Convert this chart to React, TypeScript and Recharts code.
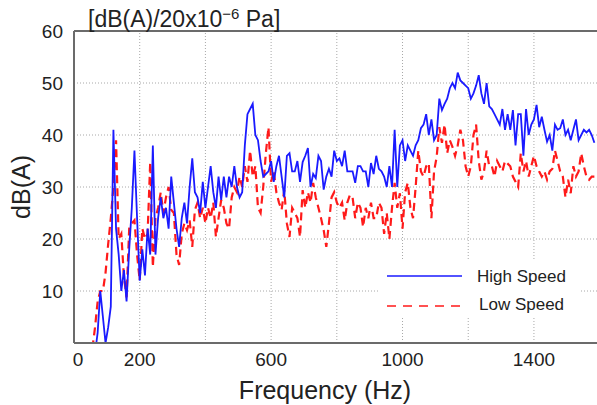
import React from 'react';
import { LineChart, Line, XAxis, YAxis, ReferenceLine } from 'recharts';

// frequency bins (Hz)
const frequencies = [
  56, 64, 72, 80, 88, 96, 104, 112, 120, 128, 136, 144, 152, 160, 168, 176,
  184, 192, 200, 208, 216, 224, 232, 240, 248, 256, 264, 272, 280, 288, 296, 304,
  312, 320, 328, 336, 344, 352, 360, 368, 376, 384, 392, 400, 408, 416, 424, 432,
  440, 448, 456, 464, 472, 480, 488, 496, 504, 512, 520, 528, 536, 544, 552, 560,
  568, 576, 584, 592, 600, 608, 616, 624, 632, 640, 648, 656, 664, 672, 680, 688,
  696, 704, 712, 720, 728, 736, 744, 752, 760, 768, 776, 784, 792, 800, 808, 816,
  824, 832, 840, 848, 856, 864, 872, 880, 888, 896, 904, 912, 920, 928, 936, 944,
  952, 960, 968, 976, 984, 992, 1000, 1008, 1016, 1024, 1032, 1040, 1048, 1056, 1064, 1072,
  1080, 1088, 1096, 1104, 1112, 1120, 1128, 1136, 1144, 1152, 1160, 1168, 1176, 1184, 1192, 1200,
  1208, 1216, 1224, 1232, 1240, 1248, 1256, 1264, 1272, 1280, 1288, 1296, 1304, 1312, 1320, 1328,
  1336, 1344, 1352, 1360, 1368, 1376, 1384, 1392, 1400, 1408, 1416, 1424, 1432, 1440, 1448, 1456,
  1464, 1472, 1480, 1488, 1496, 1504, 1512, 1520, 1528, 1536, 1544, 1552, 1560, 1568, 1576, 1584,
];

const highSpeed = [
  -5, -2, 2, 10, 5, 0, 3, 7, 41, 22, 17, 10, 14, 8, 18, 26,
  37, 24, 12, 18, 13, 22, 17, 38, 17, 24, 28, 24, 26, 22, 32, 27,
  22, 18.5, 24, 27, 23, 30, 35.5, 29, 28, 25, 31, 26, 30, 34, 29, 26,
  32, 27.5, 32, 28, 32, 30, 34, 30, 28, 29, 38, 44, 45, 46, 40, 39,
  35, 32, 32.5, 33, 35, 31, 34, 36, 32, 28, 36, 36.5, 33, 33, 35, 31,
  34.8, 36, 37.5, 30, 32.5, 31.7, 36, 35, 29.5, 32, 33.5, 32, 37, 35, 35.5, 34,
  37, 33, 33, 33, 30.8, 34, 34, 33, 33, 30, 34.6, 32.5, 36, 33.5, 33, 32,
  30, 34, 30, 41, 30, 38, 39, 35, 38, 37, 36, 38, 39, 41.3, 42, 44,
  40, 43, 39, 40, 47, 44.8, 46, 47, 49, 50, 49, 52, 50.5, 50, 49.5, 49,
  47, 48, 49.5, 51.5, 48, 46, 50, 45.5, 45, 44, 43, 42, 45, 41, 44, 41,
  44.8, 38, 44, 44, 36, 45, 40, 42, 43, 45.8, 41.5, 43.5, 41, 38.7, 40, 37,
  42, 41, 41.3, 43, 40, 41, 39, 41, 43, 39, 40, 41, 40.5, 41, 40, 38.5,
];

const lowSpeed = [
  -1, 3, 8, 10, 10, 13.5, 19, 24, 30, 39, 20, 21, 12.7, 8.8, 22, 23,
  23.6, 17, 12, 22, 20, 21, 34.8, 14.6, 24, 26, 29, 25, 28, 30, 25.6, 25,
  17, 15, 21, 23, 21.7, 23.6, 18.5, 25.6, 27, 24, 26, 23, 26, 24, 27, 20.4,
  24, 27.5, 26, 23, 22, 28, 30, 29, 32, 30, 34, 31, 37, 32, 34, 26,
  25, 30, 36.5, 41.5, 31, 33, 29, 27, 25.6, 29.4, 23, 20.4, 26, 25, 24, 20.4,
  29.4, 26, 29, 27, 30.8, 28, 26, 24, 21.7, 18.5, 23, 28, 29, 27, 26, 27,
  23.6, 27, 28.5, 28, 24, 27, 26, 22.3, 26, 24, 27, 24, 24, 27, 26, 21,
  25, 20, 26, 30.8, 26, 28.8, 22, 29, 30.8, 26, 24, 30, 37, 33, 32, 34,
  34.6, 24, 33, 35.8, 41.5, 38.5, 42, 36.5, 39, 37.7, 36, 38, 41, 39, 34, 32,
  34, 40, 42, 35, 31.4, 33, 37, 34, 34, 32, 35, 34, 33, 35, 34.5, 34,
  32, 31, 30, 36.5, 33, 35, 32, 34, 36, 34, 33, 32, 33, 31.4, 33, 33.5,
  37, 35, 33, 32, 28, 31.4, 28.8, 34, 32, 33, 36.5, 34, 32, 31.4, 32, 32,
];

const xTicks = [0, 200, 600, 1000, 1400];
const xGrid = [200, 400, 600, 800, 1000, 1200, 1400];
const yTicks = [10, 20, 30, 40, 50, 60];
const yGrid = [10, 20, 30, 40, 50];

const data = frequencies.map((f, i) => ({ f, high: highSpeed[i], low: lowSpeed[i] }));

const FONT = '"Liberation Sans", Arial, sans-serif';
const AXIS = '#6b6b6b';
const GRID = '#a8a8a8';

const XTick = (props: any) => {
  const { x, y, payload } = props;
  const dx = payload.value === 0 ? 4 : 0;
  return (
    <text x={x + dx} y={y} dy="0.71em" textAnchor="middle" fill="#222" fontSize={19} fontFamily={FONT}>
      {payload.value}
    </text>
  );
};

export default function App() {
  return (
    <div style={{ position: 'absolute', left: 0, top: 0, width: 597, height: 405, background: '#fff' }}>
      <LineChart width={597} height={405} data={data} margin={{ top: 31, right: 0, bottom: 0, left: 0 }}>
        <XAxis
          dataKey="f"
          type="number"
          domain={[0, 1592]}
          allowDataOverflow
          ticks={xTicks}
          tick={<XTick />}
          tickLine={false}
          tickSize={6}
          tickMargin={4}
          height={62}
          axisLine={{ stroke: AXIS, strokeWidth: 2 }}
        />
        <YAxis
          type="number"
          domain={[0, 60]}
          allowDataOverflow
          ticks={yTicks}
          width={74}
          tickLine={false}
          tickSize={6}
          tickMargin={5}
          tick={{ fill: '#222', fontSize: 19, fontFamily: FONT }}
          axisLine={{ stroke: AXIS, strokeWidth: 2 }}
        />
        {xGrid.map((v) => (
          <ReferenceLine key={`x${v}`} x={v} stroke={GRID} strokeDasharray="1 2" />
        ))}
        {yGrid.map((v) => (
          <ReferenceLine key={`y${v}`} y={v} stroke={GRID} strokeDasharray="1 2" />
        ))}
        <ReferenceLine y={60} stroke={AXIS} strokeWidth={2} />
        <Line
          dataKey="low"
          type="linear"
          stroke="#ff1a1a"
          strokeWidth={2.2}
          strokeDasharray="8 5"
          dot={false}
          isAnimationActive={false}
        />
        <Line
          dataKey="high"
          type="linear"
          stroke="#1a1aff"
          strokeWidth={1.8}
          dot={false}
          isAnimationActive={false}
        />
      </LineChart>
      <svg
        width={597}
        height={405}
        style={{ position: 'absolute', left: 0, top: 0, pointerEvents: 'none' }}
        fontFamily={FONT}
      >
        <text x={88} y={27} fontSize={23} fill="#222">
          [dB(A)/20x10
          <tspan dy={-8} fontSize={15}>−6</tspan>
          <tspan dy={8}> Pa]</tspan>
        </text>
        <text
          x={21}
          y={187}
          fontSize={25}
          fill="#222"
          textAnchor="middle"
          dominantBaseline="central"
          transform="rotate(-90 21 187)"
        >
          dB(A)
        </text>
        <text x={325} y={399} fontSize={25} fill="#222" textAnchor="middle">
          Frequency (Hz)
        </text>
        <rect x={380} y={260} width={200} height={58} fill="#fff" />
        <line x1={387} x2={462} y1={276} y2={276} stroke="#1a1aff" strokeWidth={1.5} />
        <text x={477} y={282} fontSize={17} fill="#222">High Speed</text>
        <line x1={387} x2={462} y1={306} y2={306} stroke="#ff1a1a" strokeWidth={1.5} strokeDasharray="9 7" />
        <text x={479} y={310} fontSize={17} fill="#222">Low Speed</text>
      </svg>
    </div>
  );
}
